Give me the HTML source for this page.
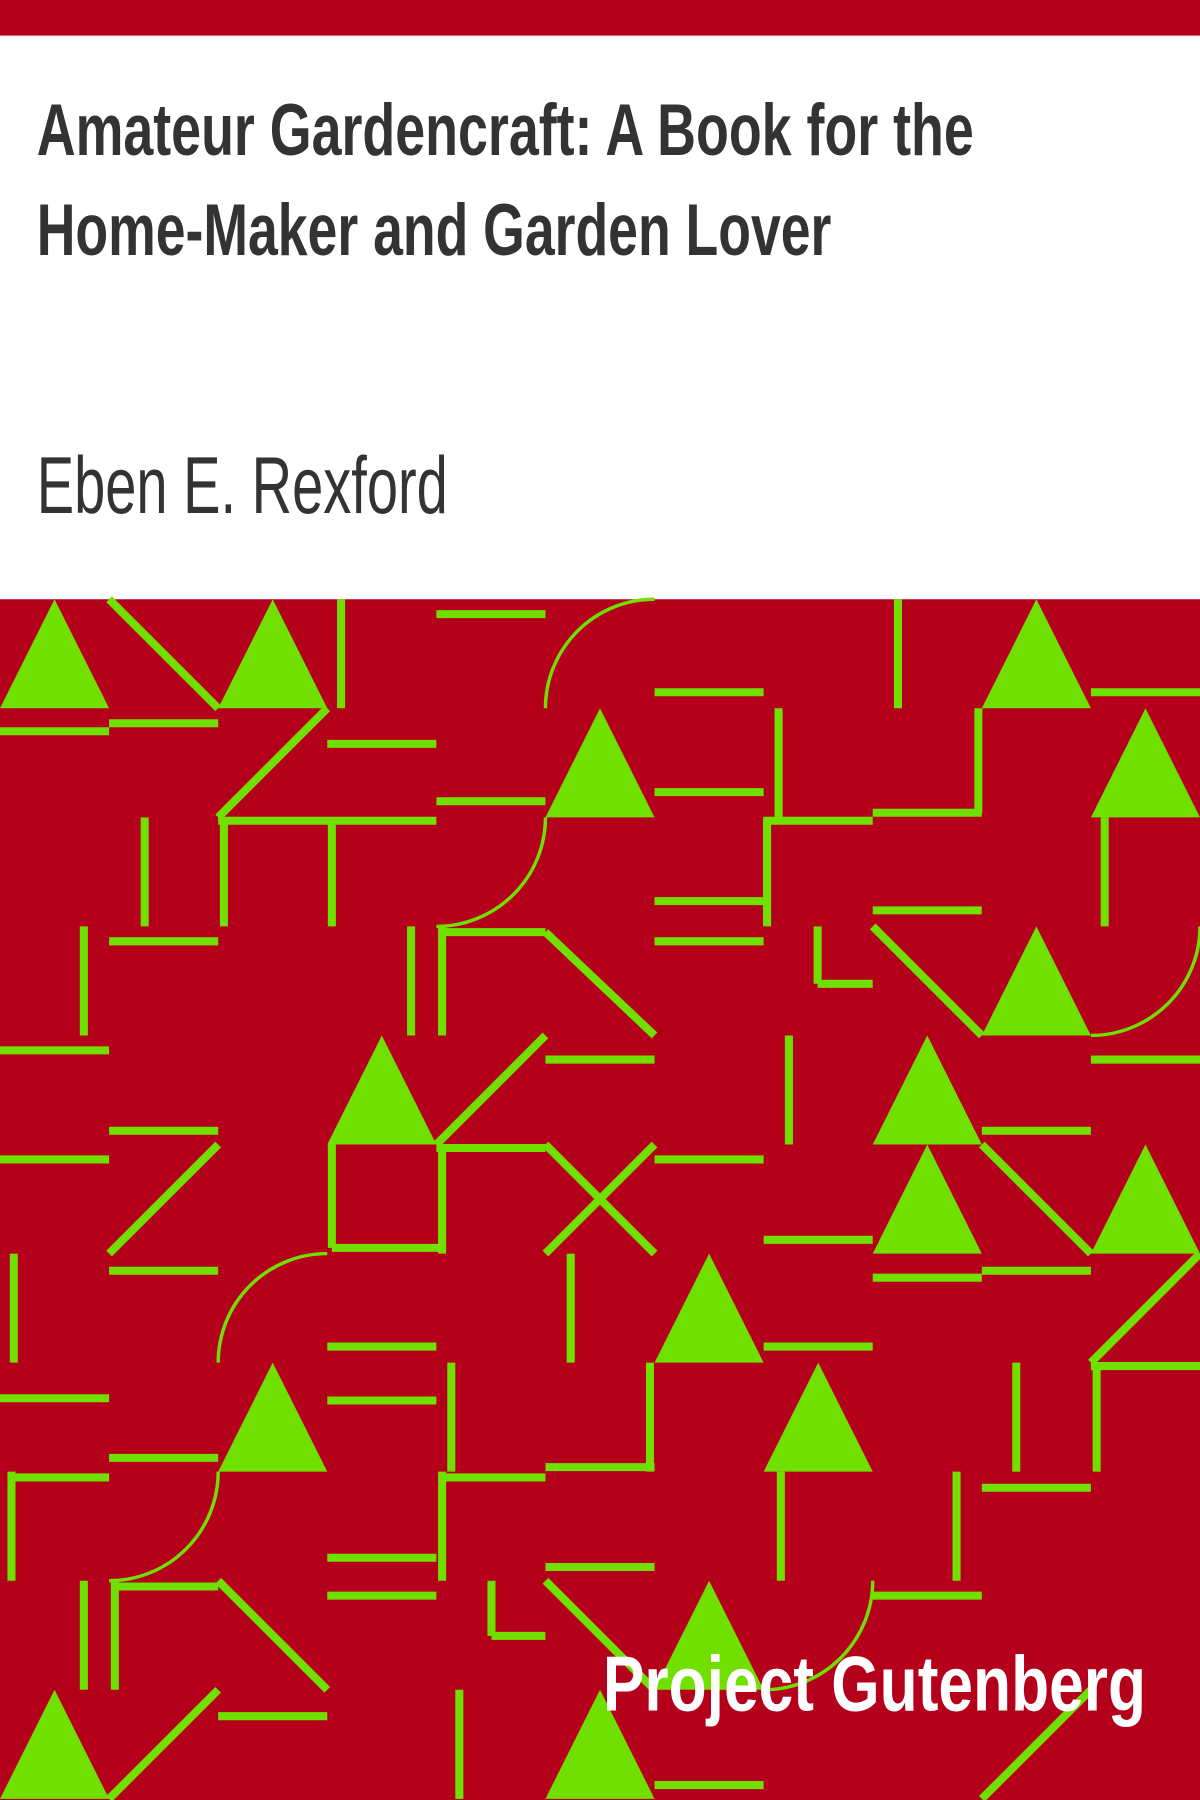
<!DOCTYPE html>
<html><head><meta charset="utf-8"><style>
html,body{margin:0;padding:0;background:#fff;}
svg{display:block;}
</style></head><body>
<svg width="1200" height="1800" viewBox="0 0 1045 1568" preserveAspectRatio="none" xmlns="http://www.w3.org/2000/svg">
<rect x="0" y="0" width="1045" height="31" fill="#b5001c"/>
<text x="32" y="135" font-family="Liberation Sans, sans-serif" font-weight="bold" font-size="64" fill="#333" textLength="816" lengthAdjust="spacingAndGlyphs">Amateur Gardencraft: A Book for the</text>
<text x="32" y="222" font-family="Liberation Sans, sans-serif" font-weight="bold" font-size="64" fill="#333" textLength="692" lengthAdjust="spacingAndGlyphs">Home-Maker and Garden Lover</text>
<text x="32" y="447" font-family="Liberation Sans, sans-serif" font-size="70" fill="#333" textLength="358" lengthAdjust="spacingAndGlyphs">Eben E. Rexford</text>
<rect x="0" y="522" width="1045" height="1046" fill="#b5001c"/>
<g id="pat" fill="none" stroke="#70e000" stroke-width="7"></g>
<text x="525" y="1490" font-family="Liberation Sans, sans-serif" font-weight="bold" font-size="68" fill="#fff" textLength="473" lengthAdjust="spacingAndGlyphs">Project Gutenberg</text>
</svg>
<script>
const NS='http://www.w3.org/2000/svg';
const g=document.getElementById('pat');
const tris=[[0,522],[190,522],[475,617],[855,522],[950,617],[855,807],[285,902],[760,902],[760,997],[950,997],[570,1092],[190,1187],[665,1187],[570,1377],[0,1472],[475,1472]];
const lines=[[95,522,190,617],[0,637,95,637],[95,630,190,630],[297,522,297,617],[380,535,475,535],[570,603,665,603],[782,522,782,617],[950,603,1045,603],
[285,617,190,712],[285,648,380,648],[380,698,475,698],[570,690,665,690],[678,617,678,712],[852,617,852,708],[760,708,855,708],
[190,715,380,715],[195,712,195,807],[289,712,289,807],[126,712,126,807],[665,715,760,715],[668,712,668,807],[570,785,665,785],[962,712,962,807],[760,793,855,793],
[73,807,73,902],[95,820,190,820],[358,807,358,902],[385,807,385,902],[385,812,475,812],[475,812,570,902],[570,820,665,820],[712,807,712,857],[712,857,760,857],[760,807,855,902],
[0,915,95,915],[475,902,380,997],[475,923,570,923],[687,902,687,997],[950,923,1045,923],
[95,985,190,985],[190,997,95,1092],[95,1107,190,1107],[0,1010,95,1010],[289,997,289,1087],[289,1087,385,1087],[385,997,385,1092],[380,1000,475,1000],
[475,997,570,1092],[570,997,475,1092],[570,1010,665,1010],[855,985,950,985],[855,997,950,1092],[665,1080,760,1080],[760,1113,855,1113],[855,1107,950,1107],
[12,1092,12,1187],[497,1092,497,1187],[285,1173,380,1173],[665,1173,760,1173],[1045,1092,950,1187],[950,1190,1045,1190],[955,1187,955,1282],
[0,1218,95,1218],[95,1270,190,1270],[393,1187,393,1282],[285,1220,380,1220],[475,1278,570,1278],[566,1187,566,1282],[885,1187,885,1282],
[10,1282,10,1377],[10,1287,95,1287],[385,1287,475,1287],[385,1282,385,1377],[680,1282,680,1377],[833,1282,833,1377],[855,1296,950,1296],
[285,1357,380,1357],[285,1390,380,1390],[475,1365,570,1365],[73,1377,73,1472],[100,1377,100,1472],[100,1382,190,1382],[190,1377,285,1472],
[428,1377,428,1425],[428,1425,475,1425],[475,1377,570,1472],[760,1390,855,1390],[190,1472,95,1567],[190,1495,285,1495],[400,1472,400,1567],[570,1555,665,1555],[950,1472,855,1567]];
const arcs=[[475,617,570,522,1],[380,807,475,712,0],[950,902,1045,807,0],[190,1187,285,1092,1],[95,1377,190,1282,0],[665,1472,760,1377,0]];
tris.forEach(t=>{const p=document.createElementNS(NS,'polygon');


p.setAttribute('points',`${t[0]+47.5},${t[1]} ${t[0]+95},${t[1]+95} ${t[0]},${t[1]+95}`);p.setAttribute('fill','#70e000');p.setAttribute('stroke','none');g.appendChild(p);});
lines.forEach(l=>{const e=document.createElementNS(NS,'line');


e.setAttribute('x1',l[0]);e.setAttribute('y1',l[1]);e.setAttribute('x2',l[2]);e.setAttribute('y2',l[3]);g.appendChild(e);});
arcs.forEach(a=>{const e=document.createElementNS(NS,'path');


e.setAttribute('stroke-width','3');
e.setAttribute('d',`M${a[0]},${a[1]} A95,95 0 0 ${a[4]} ${a[2]},${a[3]}`);g.appendChild(e);});
</script>
</body></html>
